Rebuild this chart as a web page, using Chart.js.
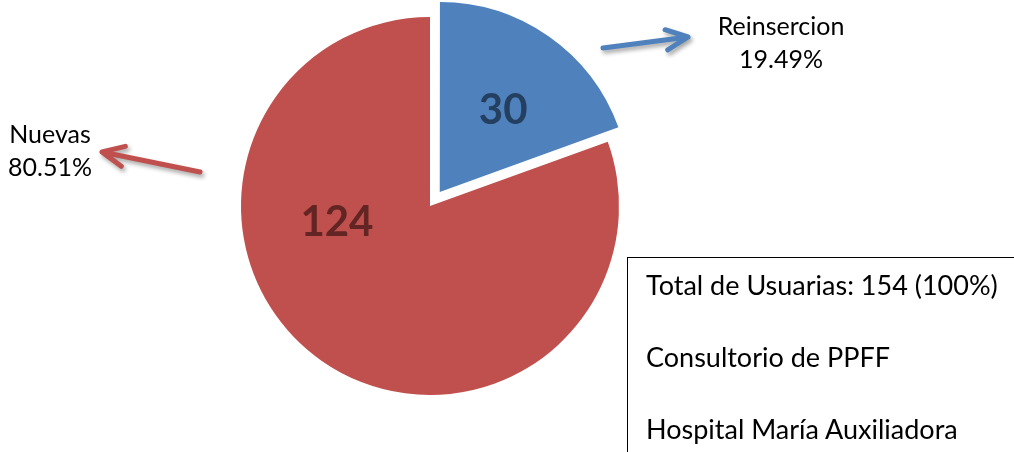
<!DOCTYPE html>
<html><head><meta charset="utf-8">
<script src="https://cdn.jsdelivr.net/npm/chart.js@4.4.0/dist/chart.umd.min.js"></script>
<style>
html,body{margin:0;padding:0;background:#fff;}
#wrap{position:relative;width:1014px;height:452px;overflow:hidden;}
#c{position:absolute;left:0;top:0;}
#box{position:absolute;left:627px;top:257px;width:420px;height:240px;border:1px solid #000;box-sizing:border-box;
 font-family:Lato,"Open Sans",sans-serif;font-size:27px;line-height:36px;padding:9px 0 0 18px;color:#000;white-space:nowrap;}
#box div{height:72px;}
</style></head>
<body><div id="wrap"><canvas id="c" width="1014" height="452"></canvas><div id="box"></div></div>
<script>
const categories = ["Reinsercion", "Nuevas"];
const values = [30, 124];
const percentLabels = ["19.49%", "80.51%"];
const sliceColors = ["#4F81BD", "#C0504D"];
const valueLabelColors = ["#243F60", "#632523"];
const sliceOffsets = [68, 0];   // Chart.js draws offset/4 px -> 17 px explosion
const boxLines = ["Total de Usuarias: 154 (100%)", "Consultorio de PPFF", "Hospital María Auxiliadora"];

document.getElementById('box').innerHTML = boxLines.map(t => '<div>' + t + '</div>').join('');

// layout (relative to pie centre, px)
const valueLabelPolar = [{deg: 38, r: 0.545}, {deg: 260, r: 0.5}];
const catLabelPos = [{dx: 351, dy: -171}, {dx: -380, dy: -63}];
const arrows = [
  {tail: [173, -158], tip: [258, -169]},
  {tail: [-230, -34], tip: [-328, -54]}
];

function drawArrow(ctx, x1, y1, x2, y2, color) {
  const a = Math.atan2(y2 - y1, x2 - x1);
  const L = 24, h = 25 * Math.PI / 180;
  ctx.save();
  ctx.strokeStyle = color;
  ctx.lineWidth = 5;
  ctx.lineCap = 'round';
  ctx.lineJoin = 'round';
  ctx.shadowColor = 'rgba(0,0,0,0.35)';
  ctx.shadowBlur = 4;
  ctx.shadowOffsetX = 2;
  ctx.shadowOffsetY = 3;
  ctx.beginPath();
  ctx.moveTo(x1, y1);
  ctx.lineTo(x2, y2);
  ctx.moveTo(x2 - L * Math.cos(a - h), y2 - L * Math.sin(a - h));
  ctx.lineTo(x2, y2);
  ctx.lineTo(x2 - L * Math.cos(a + h), y2 - L * Math.sin(a + h));
  ctx.stroke();
  ctx.restore();
}

const labelPlugin = {
  id: 'labels',
  afterDatasetsDraw(chart) {
    const ctx = chart.ctx;
    const meta = chart.getDatasetMeta(0);
    meta.data.forEach((arc, i) => {
      const p = arc.getProps(['x', 'y', 'startAngle', 'endAngle', 'outerRadius'], true);
      const mid = (p.startAngle + p.endAngle) / 2;
      const off = sliceOffsets[i] / 4;
      const cx = p.x + Math.cos(mid) * off, cy = p.y + Math.sin(mid) * off;
      const ang = (valueLabelPolar[i].deg - 90) * Math.PI / 180;
      const rr = valueLabelPolar[i].r * p.outerRadius;
      ctx.save();
      ctx.font = 'bold 42px Lato, "Open Sans", sans-serif';
      ctx.fillStyle = valueLabelColors[i];
      ctx.textAlign = 'center';
      ctx.textBaseline = 'middle';
      ctx.fillText(String(values[i]), cx + Math.cos(ang) * rr, cy + Math.sin(ang) * rr);
      ctx.font = '25px Lato, "Open Sans", sans-serif';
      ctx.fillStyle = '#000';
      ctx.textBaseline = 'alphabetic';
      const lp = catLabelPos[i];
      ctx.fillText(categories[i], p.x + lp.dx, p.y + lp.dy);
      ctx.fillText(percentLabels[i], p.x + lp.dx, p.y + lp.dy + 33);
      ctx.restore();
      const ar = arrows[i];
      drawArrow(ctx, p.x + ar.tail[0], p.y + ar.tail[1], p.x + ar.tip[0], p.y + ar.tip[1], sliceColors[i]);
    });
  }
};

new Chart(document.getElementById('c'), {
  type: 'pie',
  data: {
    labels: categories,
    datasets: [{
      data: values,
      backgroundColor: sliceColors,
      borderWidth: 0,
      offset: sliceOffsets
    }]
  },
  options: {
    responsive: false,
    animation: false,
    radius: 189,
    layout: {padding: {left: 0, right: 154, top: 0, bottom: 40}},
    plugins: {legend: {display: false}, tooltip: {enabled: false}}
  },
  plugins: [labelPlugin]
});
</script>
</body></html>
